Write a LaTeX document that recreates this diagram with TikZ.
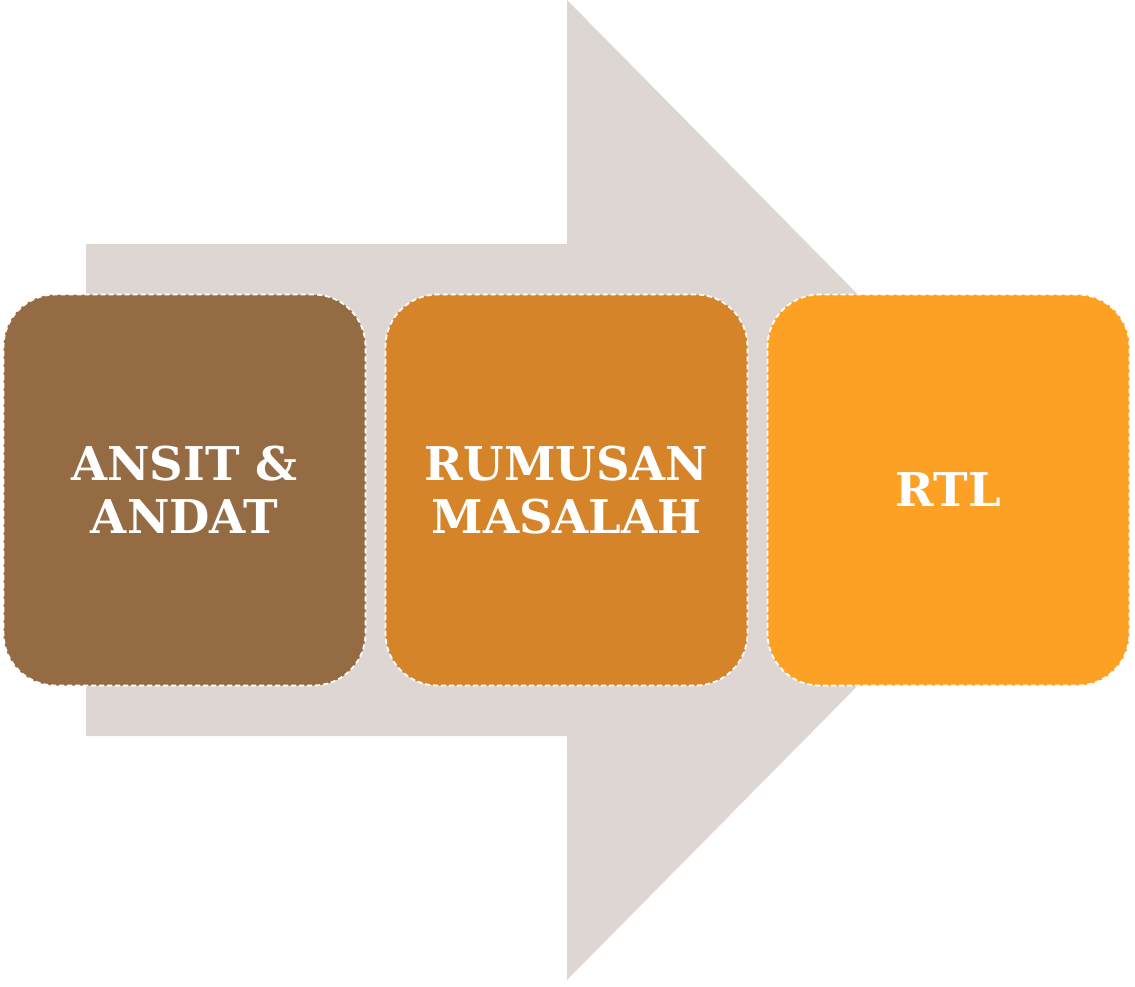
\documentclass[tikz,border=0pt]{standalone}
\usepackage{fontspec}
\newfontfamily\boxfont{DejaVu Serif}
\definecolor{arrowgray}{HTML}{DDD6D2}
\definecolor{cA}{HTML}{956B43}
\definecolor{cB}{HTML}{D5842A}
\definecolor{cC}{HTML}{FCA124}
\begin{document}
\begin{tikzpicture}[x=1pt,y=-1pt,
  stepbox/.style={draw=white, rounded corners=52pt, dash pattern=on 5pt off 3pt,
    line width=1.8pt, minimum width=362pt, minimum height=391pt, inner sep=0pt,
    text=white, align=center, font=\boxfont\fontsize{46.5}{53}\selectfont\bfseries}]
\useasboundingbox (0,0) rectangle (1135,986);
\fill[arrowgray] (86,244) -- (567,244) -- (567,0) -- (1051,490) -- (567,980) -- (567,736) -- (86,736) -- cycle;
\node[stepbox, fill=cA] (b1) at (184.5,490) {ANSIT \&\\ANDAT};
\node[stepbox, fill=cB] (b2) at (566.5,490) {RUMUSAN\\MASALAH};
\node[stepbox, fill=cC] (b3) at (948.5,490) {RTL};
\end{tikzpicture}
\end{document}
